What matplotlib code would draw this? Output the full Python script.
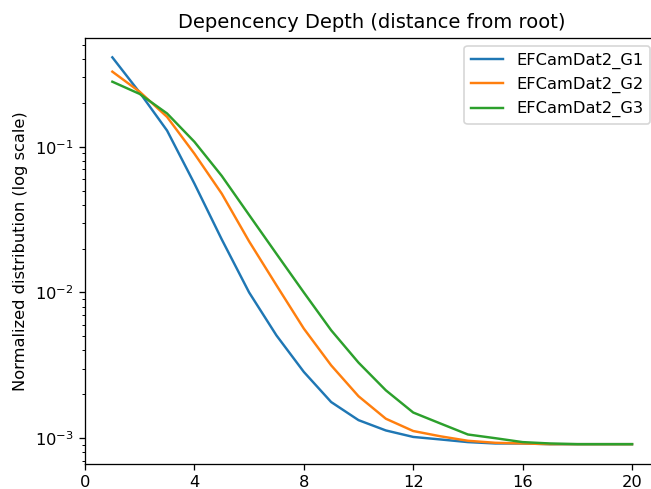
import matplotlib
matplotlib.use("Agg")
import matplotlib.pyplot as plt

depth = list(range(1, 21))
g1 = [0.41, 0.235, 0.129, 0.0558, 0.0231, 0.0100, 0.00507, 0.00285, 0.00177, 0.00133,
      0.00113, 0.00102, 0.00098, 0.00094, 0.00092, 0.00092, 0.00091, 0.00091, 0.00091, 0.00091]
g2 = [0.327, 0.238, 0.160, 0.0895, 0.0476, 0.0224, 0.0112, 0.00565, 0.00316, 0.00194,
      0.00136, 0.00112, 0.00103, 0.00096, 0.00093, 0.00092, 0.00091, 0.00091, 0.00091, 0.00091]
g3 = [0.279, 0.230, 0.169, 0.108, 0.063, 0.034, 0.0184, 0.0100, 0.0055, 0.0033,
      0.00213, 0.0015, 0.00126, 0.00106, 0.00100, 0.00094, 0.00092, 0.00091, 0.00091, 0.00091]
labels = ["EFCamDat2_G1", "EFCamDat2_G2", "EFCamDat2_G3"]

DPI = 116.7
W, H = 651, 489
fig = plt.figure(figsize=(W / DPI, H / DPI), dpi=DPI)
ax = fig.add_axes([85 / W, (H - 463.5) / H, (658 - 85) / W, (463.5 - 38) / H])
for ys, lab in zip([g1, g2, g3], labels):
    ax.plot(depth, ys, label=lab)
ax.set_yscale("log")
ax.set_xlim(0, 20.95)
ax.set_xticks([0, 4, 8, 12, 16, 20])
ax.set_title("Depencency Depth (distance from root)")
ax.set_ylabel("Normalized distribution (log scale)")
ax.legend(loc="upper right")
fig.savefig("out.png", dpi=DPI)
